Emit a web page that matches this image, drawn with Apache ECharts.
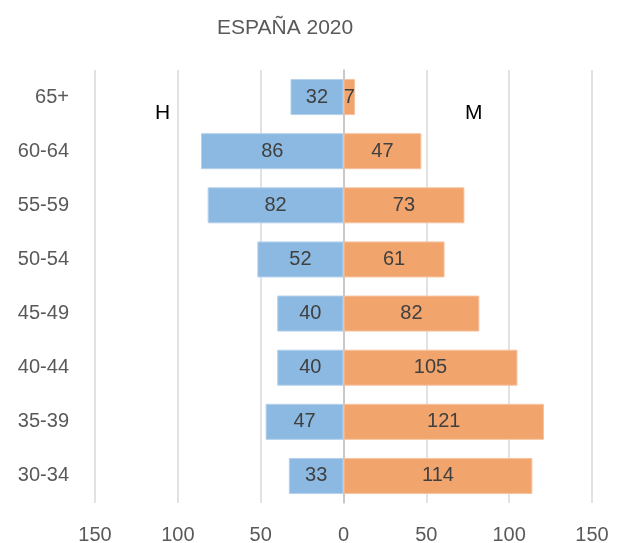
<!DOCTYPE html>
<html><head><meta charset="utf-8">
<script src="https://cdn.jsdelivr.net/npm/echarts@6/dist/echarts.min.js"></script>
<style>html,body{margin:0;padding:0;background:#fff}#c{width:617px;height:543px}</style>
</head><body><div id="c"></div>
<script>
const categories = ['65+','60-64','55-59','50-54','45-49','40-44','35-39','30-34'];
const hombres = [32,86,82,52,40,40,47,33];
const mujeres = [7,47,73,61,82,105,121,114];
const titleText = 'ESPAÑA 2020';
const FONT = '"Liberation Sans", Arial, sans-serif';
const chart = echarts.init(document.getElementById('c'), null, {renderer:'canvas'});
chart.setOption({
  animation:false,
  backgroundColor:'#fff',
  title:{text:titleText,left:212,top:13,textStyle:{fontFamily:FONT,fontSize:21,fontWeight:'normal',color:'#595959'}},
  graphic:[
    {type:'text',left:155,top:103,style:{text:'H',font:'21px '+FONT,fill:'#000'}},
    {type:'text',left:465,top:103,style:{text:'M',font:'21px '+FONT,fill:'#000'}}
  ],
  grid:{left:95,right:25,top:70,bottom:40,containLabel:false,outerBoundsMode:'none'},
  xAxis:{type:'value',min:-150,max:150,interval:50,
    axisLine:{show:false},axisTick:{show:false},
    axisLabel:{formatter:v=>Math.abs(v),fontFamily:FONT,fontSize:20,color:'#595959',margin:22},
    splitLine:{lineStyle:{color:'#d9d9d9',width:1.5}}},
  yAxis:{type:'category',data:categories,inverse:true,
    axisLine:{onZero:true,lineStyle:{color:'#bfbfbf',width:1.5}},axisTick:{show:false},
    axisLabel:{fontFamily:FONT,fontSize:20,color:'#595959',margin:26}},
  series:[
    {name:'H',type:'bar',stack:'t',barWidth:36,data:hombres.map(v=>-v),
     itemStyle:{color:'#8bb9e1',borderColor:'#b4d0ec',borderWidth:1},
     label:{show:true,position:'inside',formatter:p=>Math.abs(p.value),fontFamily:FONT,fontSize:20,color:'#404040'}},
    {name:'M',type:'bar',stack:'t',barWidth:36,data:mujeres,
     itemStyle:{color:'#f1a46c',borderColor:'#f5c3a0',borderWidth:1},
     label:{show:true,position:'inside',fontFamily:FONT,fontSize:20,color:'#404040'}}
  ]
});
</script></body></html>
